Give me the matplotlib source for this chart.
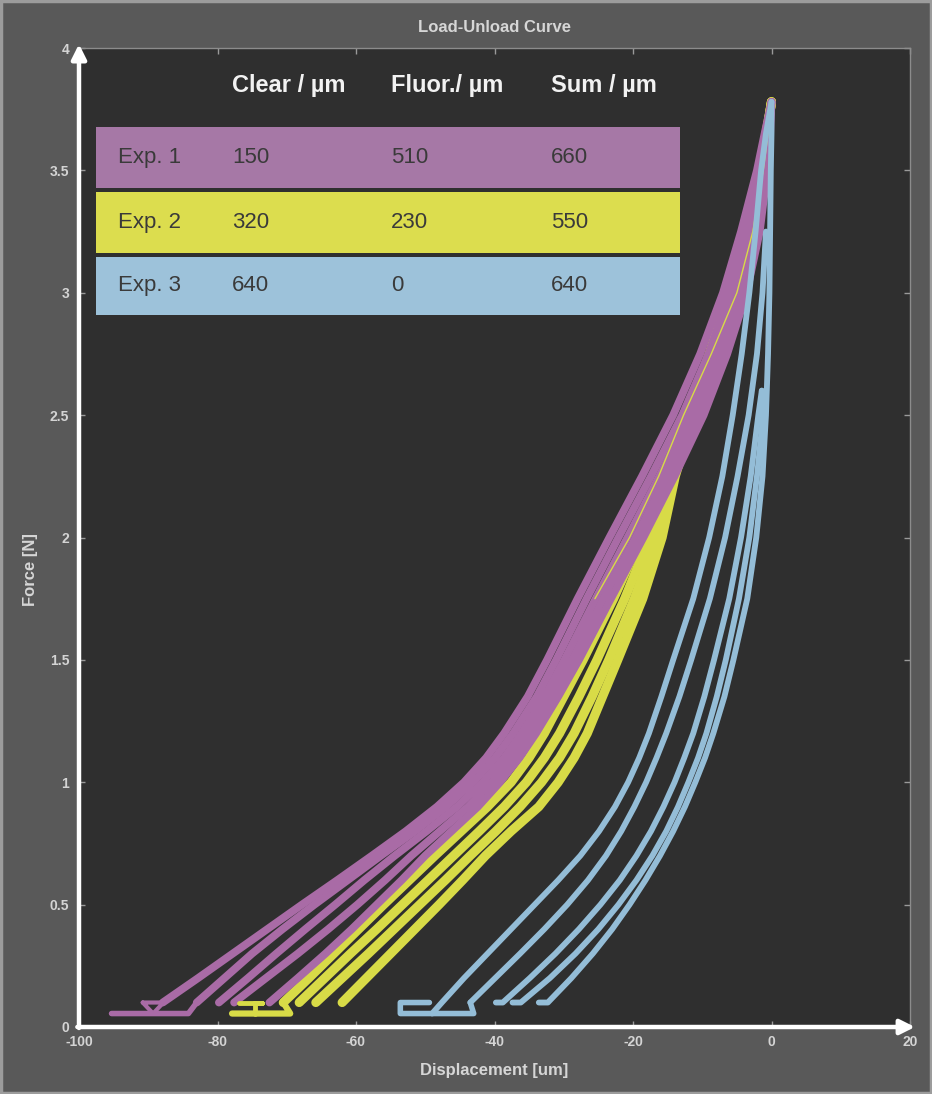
import matplotlib
matplotlib.use("Agg")
import matplotlib.pyplot as plt
from matplotlib.patches import Rectangle

# ---------------------------------------------------------------- data
x_ticks = [-100, -80, -60, -40, -20, 0, 20]
y_ticks = [0, 0.5, 1, 1.5, 2, 2.5, 3, 3.5, 4]
y_tick_labels = ["0", "0.5", "1", "1.5", "2", "2.5", "3", "3.5", "4"]

# force levels (N) at which the displacement of each trace was read
force_levels = [0.1, 0.2, 0.3, 0.4, 0.5, 0.6, 0.7, 0.8, 0.9, 1.0, 1.1, 1.2,
                1.35, 1.5, 1.75, 2.0, 2.25, 2.5, 2.75, 3.0, 3.25, 3.5, 3.65, 3.78]

# Exp. 1 - displacement (um) of each trace at force_levels
exp1_trace1 = [-87.9, -82.8, -77.8, -72.8, -67.8, -62.7, -57.7, -52.8, -48.3, -44.4,
               -41.2, -38.6, -35.2, -32.4, -28.0, -23.4, -18.7, -14.2, -10.3, -7.0,
               -4.4, -2.1, -1.0, 0.0]
exp1_trace2 = [-83.0, -79.0, -75.0, -70.6, -66.0, -61.2, -56.4, -51.5, -47.0, -43.1,
               -39.9, -37.3, -33.9, -31.1, -26.7, -22.1, -17.4, -12.9, -9.1, -6.0,
               -3.6, -1.6, -0.7, 0.0]
exp1_trace3 = [-79.8, -75.6, -71.5, -67.3, -63.0, -58.8, -54.4, -49.8, -45.4, -41.7,
               -38.6, -36.1, -32.8, -29.9, -25.4, -20.8, -16.2, -11.8, -8.1, -5.1,
               -2.8, -1.2, -0.5, 0.0]
exp1_trace4 = [-77.6, -73.0, -68.4, -64.0, -59.8, -55.8, -52.0, -47.9, -43.8, -40.4,
               -37.5, -35.0, -31.8, -28.8, -24.3, -19.6, -15.1, -10.8, -7.2, -4.3,
               -2.2, -0.9, -0.3, 0.0]
exp1_trace5 = [-72.5, -68.4, -64.4, -60.6, -57.0, -53.4, -50.0, -46.2, -42.4, -39.2,
               -36.4, -34.0, -30.8, -27.8, -23.2, -18.5, -14.0, -9.8, -6.4, -3.6,
               -1.7, -0.6, -0.2, 0.0]
# approach segments at the start of Exp. 1
exp1_base_x = [-95.3, -84.2, -83.0]
exp1_base_y = [0.055, 0.055, 0.1]
exp1_notch_x = [-90.8, -87.8, -89.3, -90.8]
exp1_notch_y = [0.1, 0.1, 0.055, 0.1]

# Exp. 2
exp2_trace1 = [-70.5, -66.8, -63.2, -59.6, -56.0, -52.3, -48.6, -44.8, -41.0, -37.6,
               -35.0, -32.8, -30.0, -27.2, -22.8, -18.8, -15.2, -12.0, -9.0, -6.2,
               -3.8, -1.7, -0.8, 0.0]
exp2_trace2 = [-68.2, -64.5, -60.8, -57.0, -53.3, -49.6, -45.9, -42.2, -38.6, -35.4,
               -32.8, -30.6, -27.8, -25.2, -21.2, -17.6, -14.6, -11.7, -8.8, -6.0,
               -3.6, -1.6, -0.7, 0.0]
exp2_trace3 = [-65.8, -62.0, -58.2, -54.5, -50.8, -47.1, -43.5, -39.8, -36.3, -33.2,
               -30.6, -28.5, -25.9, -23.5, -19.8, -16.6, -14.2, -11.4, -8.6, -5.9,
               -3.5, -1.5, -0.7, 0.0]
exp2_trace4 = [-62.0, -58.5, -55.0, -51.5, -48.0, -44.6, -41.3, -37.6, -33.6, -30.8,
               -28.5, -26.6, -24.4, -22.2, -18.6, -15.8, -13.9, -11.2, -8.5, -5.8,
               -3.4, -1.5, -0.7, 0.0]
# loading trace of Exp. 2 that runs inside the Exp. 1 band
exp2_inner_force = [1.75, 2.0, 2.25, 2.5, 2.75, 3.0, 3.25, 3.5, 3.65, 3.78]
exp2_inner_disp = [-25.5, -20.5, -16.3, -12.7, -8.7, -5.0, -2.7, -1.2, -0.5, 0.0]
exp2_base_x = [-77.9, -69.5, -70.5]
exp2_base_y = [0.055, 0.055, 0.1]
exp2_hook_x = [-76.9, -73.6, -74.6, -74.6]
exp2_hook_y = [0.1, 0.1, 0.1, 0.055]

# Exp. 3 - nested cycles peaking at 3.78 N, 3.25 N and 2.6 N
exp3_force_a = [0.055] + force_levels
exp3_trace1 = [-49.0, -47.6, -44.4, -41.0, -37.6, -34.2, -30.8, -27.6, -24.9, -22.6,
               -20.7, -19.1, -17.7, -15.9, -14.2, -11.3, -9.0, -7.1, -5.6, -4.3,
               -3.2, -2.3, -1.5, -0.8, 0.0]
exp3_force_b = [0.1, 0.2, 0.3, 0.4, 0.5, 0.6, 0.7, 0.8, 0.9, 1.0, 1.1, 1.2, 1.35,
                1.5, 1.75, 2.0, 2.25, 2.5, 2.75, 3.0, 3.25]
exp3_trace2 = [-43.5, -39.9, -36.3, -32.8, -29.5, -26.5, -23.9, -21.7, -19.8, -18.1,
               -16.6, -15.2, -13.3, -11.6, -8.9, -6.7, -4.9, -3.3, -2.1, -1.3, -0.8]
exp3_force_c = [0.1, 0.1, 0.2, 0.3, 0.4, 0.5, 0.6, 0.7, 0.8, 0.9, 1.0, 1.1, 1.2,
                1.35, 1.5, 1.75, 2.0, 2.25, 2.5, 2.6]
exp3_trace3 = [-39.8, -38.8, -34.9, -31.2, -27.8, -24.7, -21.9, -19.5, -17.4, -15.6,
               -14.0, -12.6, -11.3, -9.7, -8.3, -6.1, -4.4, -3.0, -1.9, -1.4]
exp3_trace4 = [-37.4, -36.2, -32.0, -28.3, -25.0, -22.1, -19.5, -17.2, -15.2, -13.5,
               -12.0, -10.6, -9.4, -7.9, -6.6, -4.7, -3.2, -2.1, -1.2, -1.4]
exp3_force_d = [0.1] + force_levels
exp3_trace5 = [-33.6, -32.3, -28.9, -25.8, -23.0, -20.5, -18.2, -16.1, -14.2, -12.5,
               -11.0, -9.6, -8.4, -6.8, -5.5, -3.5, -2.2, -1.3, -0.8, -0.5,
               -0.3, -0.2, -0.1, 0.0, 0.0]
exp3_base_x = [-49.4, -53.6, -53.6, -43.0, -43.5]
exp3_base_y = [0.1, 0.1, 0.055, 0.055, 0.1]

# thickness table
table_rows = ["Exp. 1", "Exp. 2", "Exp. 3"]
table_header = ["Clear / \u00b5m", "Fluor./ \u00b5m", "Sum / \u00b5m"]
clear_um = [150, 320, 640]
fluor_um = [510, 230, 0]
sum_um = [660, 550, 640]

# ---------------------------------------------------------------- style
MAGENTA = "#a96ba6"
YELLOW = "#d8db47"
BLUE = "#94bdd7"
ROW_COLORS = ["#a678a6", "#dcdd4e", "#9dc2da"]

plt.rcParams["font.family"] = ["Liberation Sans", "DejaVu Sans"]

fig = plt.figure(figsize=(9.32, 10.94), dpi=100)
fig.patch.set_facecolor("#595959")
fig.patches.append(Rectangle((0.001, 0.001), 0.998, 0.998, transform=fig.transFigure,
                             fill=False, edgecolor="#9c9c9c", lw=2.5))

ax = fig.add_axes([79 / 932, 67 / 1094, 831 / 932, 979 / 1094])
ax.set_facecolor("#2f2f2f")
ax.set_xlim(-100, 20)
ax.set_ylim(0, 4)


def trace(xs, ys, color, lw, z):
    ax.plot(xs, ys, color=color, lw=lw, solid_capstyle="round",
            solid_joinstyle="round", zorder=z)


# Exp. 2 (underneath Exp. 1)
for tr in (exp2_trace1, exp2_trace2, exp2_trace3, exp2_trace4):
    trace(tr, force_levels, YELLOW, 6.6, 2)

# Exp. 1
for tr in (exp1_trace1, exp1_trace2, exp1_trace3, exp1_trace4, exp1_trace5):
    trace(tr, force_levels, MAGENTA, 5.6, 3)
trace(exp1_base_x, exp1_base_y, MAGENTA, 4.0, 3)
trace(exp1_notch_x, exp1_notch_y, MAGENTA, 3.0, 3)

# Exp. 2 approach segment and inner loading trace on top
trace(exp2_base_x, exp2_base_y, YELLOW, 4.5, 4)
trace(exp2_hook_x, exp2_hook_y, YELLOW, 3.5, 4)
trace(exp2_inner_disp, exp2_inner_force, YELLOW, 1.0, 4)

# Exp. 3
trace(exp3_trace1, exp3_force_a, BLUE, 4.2, 5)
trace(exp3_trace2, exp3_force_b, BLUE, 4.2, 5)
trace(exp3_trace3, exp3_force_c, BLUE, 4.2, 5)
trace(exp3_trace4, exp3_force_c, BLUE, 4.2, 5)
trace(exp3_trace5, exp3_force_d, BLUE, 4.2, 5)
trace(exp3_base_x, exp3_base_y, BLUE, 4.0, 5)

# ---------------------------------------------------------------- axes
ax.set_xticks(x_ticks)
ax.set_xticklabels([str(v) for v in x_ticks])
ax.set_yticks(y_ticks)
ax.set_yticklabels(y_tick_labels)
ax.tick_params(axis="both", direction="in", length=4, width=1, color="#9a9a9a",
               labelcolor="#d4d4d4", labelsize=10, top=True, right=True)
ax.tick_params(axis="x", pad=6)
ax.tick_params(axis="y", pad=7)
for lab in ax.get_xticklabels() + ax.get_yticklabels():
    lab.set_fontweight("bold")

for side in ("top", "right"):
    ax.spines[side].set_color("#8c8c8c")
    ax.spines[side].set_linewidth(1.0)
for side in ("left", "bottom"):
    ax.spines[side].set_visible(False)

arrow = dict(arrowstyle="-|>", color="white", lw=3.2, mutation_scale=22,
             shrinkA=0, shrinkB=0)
ax.annotate("", xy=(0, 1.004), xytext=(0, -0.001), xycoords="axes fraction",
            arrowprops=arrow, annotation_clip=False, zorder=10)
ax.annotate("", xy=(1.006, 0), xytext=(-0.002, 0), xycoords="axes fraction",
            arrowprops=arrow, annotation_clip=False, zorder=10)

fig.text(494 / 932, 1 - 27 / 1094, "Load-Unload Curve", ha="center", va="center",
         color="#d6d6d6", fontsize=12, fontweight="bold")
fig.text(494 / 932, 1 - 1070 / 1094, "Displacement [um]", ha="center", va="center",
         color="#d6d6d6", fontsize=12, fontweight="bold")
fig.text(30 / 932, 1 - 570 / 1094, "Force [N]", ha="center", va="center",
         rotation=90, color="#d6d6d6", fontsize=12, fontweight="bold")

# ---------------------------------------------------------------- table
col_x = [0.1841, 0.3755, 0.5680]
row_bounds = [(0.8570, 0.9193), (0.7906, 0.8529), (0.7273, 0.7865)]
for x, txt in zip(col_x, table_header):
    ax.text(x, 0.9612, txt, transform=ax.transAxes, ha="left", va="center",
            color="#f2f2f2", fontsize=17, fontweight="bold", zorder=12)
for i, (lo, hi) in enumerate(row_bounds):
    ax.add_patch(Rectangle((0.0205, lo), 0.7027, hi - lo, transform=ax.transAxes,
                           facecolor=ROW_COLORS[i], edgecolor="none", zorder=11))
    yc = (lo + hi) / 2
    vals = [table_rows[i], str(clear_um[i]), str(fluor_um[i]), str(sum_um[i])]
    for x, txt in zip([0.0469] + col_x, vals):
        ax.text(x, yc, txt, transform=ax.transAxes, ha="left", va="center",
                color="#3a3a3a", fontsize=16, zorder=12)

fig.savefig("out.png", dpi=100, facecolor=fig.get_facecolor())
